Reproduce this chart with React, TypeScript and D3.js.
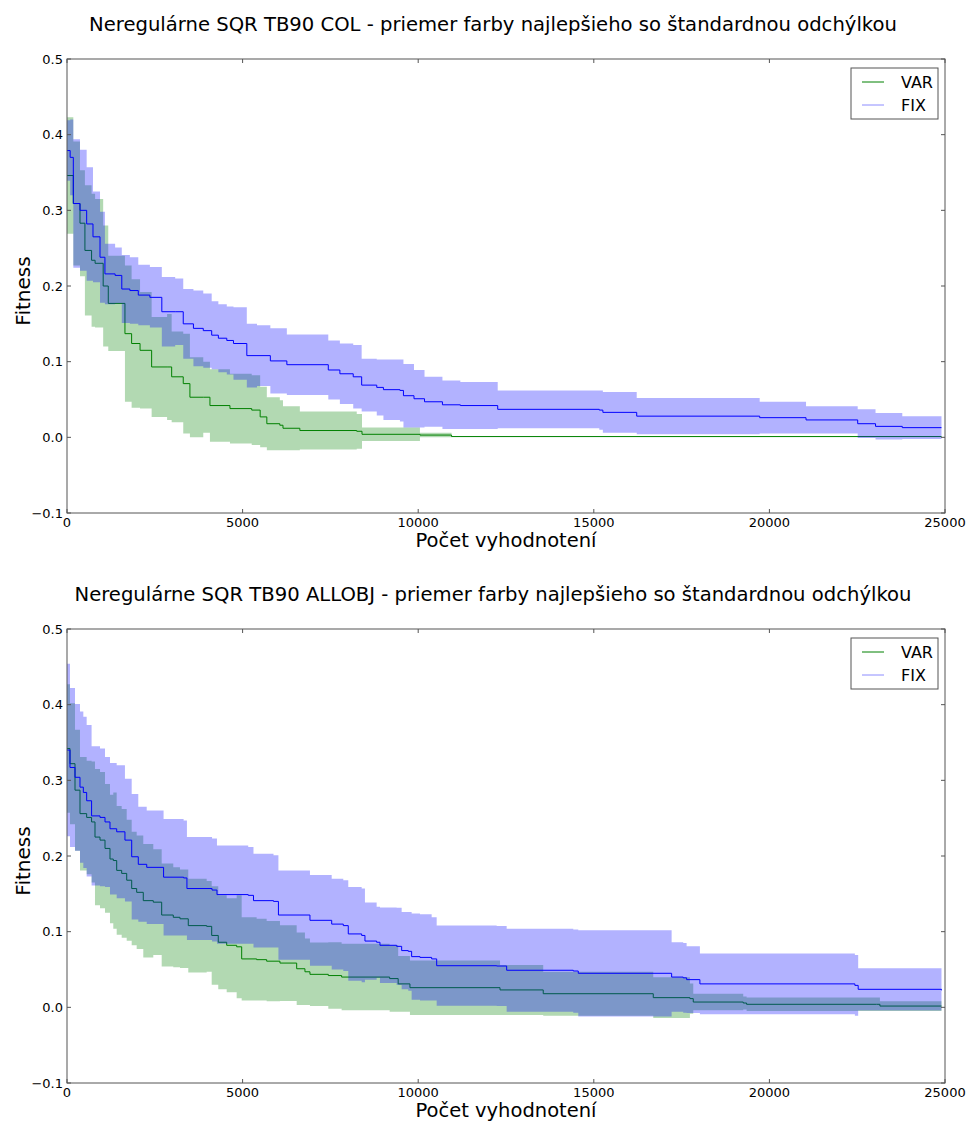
import React from 'react'
import * as d3 from 'd3'

// evaluations, mean and std (step changes)
const colEvalsVar = [0, 180, 370, 510, 700, 800, 1030, 1175, 1650, 1840, 2080, 2410, 2850, 2980, 3310, 3500, 3880, 4070, 4640, 5260, 5500, 5690, 6060, 6150, 6630, 8250, 8400, 10050, 10950, 24900]
const colMeanVar = [0.346, 0.309, 0.283, 0.247, 0.234, 0.23, 0.2, 0.177, 0.137, 0.124, 0.115, 0.093, 0.093, 0.08, 0.071, 0.053, 0.053, 0.042, 0.038, 0.036, 0.027, 0.018, 0.016, 0.012, 0.009, 0.008, 0.004, 0.003, 0.001, 0.001]
const colStdVar = [0.077, 0.082, 0.07, 0.086, 0.088, 0.085, 0.08, 0.063, 0.09, 0.085, 0.077, 0.066, 0.07, 0.06, 0.066, 0.053, 0.047, 0.048, 0.046, 0.046, 0.04, 0.035, 0.033, 0.029, 0.025, 0.023, 0.009, 0.003, 0.0005, 0.0005]

const colEvalsFix = [0, 90, 180, 370, 560, 740, 940, 1080, 1370, 1560, 1790, 2030, 2360, 2700, 3080, 3310, 3600, 3880, 4120, 4310, 4550, 4740, 5120, 5410, 5790, 6260, 7440, 7770, 8150, 8390, 8820, 9010, 9480, 9580, 9880, 10180, 10690, 11200, 12264, 15156, 15258, 16222, 19723, 21043, 22514, 23022, 23784, 24900]
const colMeanFix = [0.379, 0.37, 0.309, 0.3, 0.282, 0.265, 0.238, 0.216, 0.214, 0.196, 0.194, 0.188, 0.185, 0.166, 0.166, 0.15, 0.144, 0.141, 0.135, 0.131, 0.128, 0.124, 0.108, 0.108, 0.101, 0.096, 0.089, 0.084, 0.08, 0.069, 0.066, 0.063, 0.062, 0.055, 0.051, 0.047, 0.043, 0.042, 0.037, 0.036, 0.033, 0.028, 0.026, 0.023, 0.018, 0.0145, 0.0128, 0.0128]
const colStdFix = [0.04, 0.05, 0.085, 0.08, 0.075, 0.06, 0.06, 0.04, 0.037, 0.045, 0.044, 0.04, 0.04, 0.046, 0.044, 0.046, 0.05, 0.049, 0.045, 0.045, 0.045, 0.048, 0.042, 0.04, 0.043, 0.04, 0.039, 0.04, 0.042, 0.035, 0.037, 0.04, 0.041, 0.042, 0.038, 0.033, 0.032, 0.031, 0.025, 0.026, 0.027, 0.024, 0.021, 0.018, 0.019, 0.0175, 0.015, 0.015]

const allEvalsVar = [0, 85, 228, 370, 560, 700, 797, 940, 1082, 1224, 1318, 1415, 1557, 1700, 1842, 1984, 2172, 2457, 2696, 3026, 3217, 3453, 3977, 4120, 4307, 4547, 4831, 4974, 5400, 5685, 6064, 6540, 6775, 6918, 7440, 7820, 9187, 9430, 9765, 12330, 13560, 16693, 17737, 17832, 19255, 19351, 23052, 23147, 24900]
const allMeanVar = [0.342, 0.322, 0.287, 0.256, 0.251, 0.245, 0.225, 0.221, 0.21, 0.196, 0.194, 0.181, 0.177, 0.168, 0.157, 0.152, 0.141, 0.139, 0.122, 0.119, 0.117, 0.108, 0.107, 0.095, 0.086, 0.082, 0.08, 0.064, 0.063, 0.061, 0.0585, 0.051, 0.047, 0.0436, 0.042, 0.04, 0.038, 0.031, 0.026, 0.023, 0.018, 0.0128, 0.0115, 0.007, 0.0057, 0.004, 0.004, 0.0017, 0.0017]
const allStdVar = [0.085, 0.08, 0.08, 0.075, 0.075, 0.08, 0.09, 0.09, 0.085, 0.085, 0.09, 0.085, 0.085, 0.08, 0.075, 0.075, 0.075, 0.07, 0.068, 0.066, 0.065, 0.062, 0.06, 0.065, 0.062, 0.062, 0.068, 0.055, 0.054, 0.053, 0.05, 0.048, 0.044, 0.042, 0.044, 0.044, 0.044, 0.037, 0.036, 0.033, 0.029, 0.027, 0.02, 0.011, 0.0085, 0.009, 0.009, 0.0065, 0.0065]

const allEvalsFix = [0, 85, 228, 370, 465, 560, 700, 940, 1082, 1224, 1415, 1650, 1842, 2030, 2270, 2750, 3320, 3415, 4130, 4270, 5160, 5310, 5880, 6020, 6918, 7537, 7867, 8009, 8390, 8484, 8817, 8911, 9386, 9529, 9717, 9813, 10050, 10383, 10526, 12234, 12519, 14415, 14558, 17216, 17546, 17643, 18021, 22434, 22528, 24900]
const allMeanFix = [0.34, 0.317, 0.304, 0.291, 0.284, 0.273, 0.253, 0.251, 0.245, 0.236, 0.232, 0.221, 0.199, 0.189, 0.185, 0.172, 0.171, 0.157, 0.155, 0.149, 0.148, 0.141, 0.14, 0.122, 0.115, 0.11, 0.108, 0.097, 0.095, 0.0876, 0.086, 0.082, 0.0806, 0.075, 0.074, 0.067, 0.066, 0.064, 0.055, 0.0546, 0.049, 0.048, 0.045, 0.04, 0.039, 0.0366, 0.031, 0.029, 0.0238, 0.0225]
const allStdFix = [0.114, 0.105, 0.097, 0.1, 0.1, 0.1, 0.092, 0.091, 0.086, 0.087, 0.088, 0.081, 0.083, 0.076, 0.075, 0.077, 0.076, 0.068, 0.068, 0.065, 0.064, 0.062, 0.061, 0.059, 0.06, 0.06, 0.06, 0.062, 0.062, 0.051, 0.047, 0.05, 0.051, 0.051, 0.052, 0.057, 0.057, 0.055, 0.053, 0.053, 0.055, 0.055, 0.057, 0.046, 0.046, 0.044, 0.04, 0.04, 0.028, 0.0286]

const xTicks = [0, 5000, 10000, 15000, 20000, 25000]
const yTicks = [-0.1, 0, 0.1, 0.2, 0.3, 0.4, 0.5]
const seriesNames = ['VAR', 'FIX']
const titles = [
  'Neregulárne SQR TB90 COL - priemer farby najlepšieho so štandardnou odchýlkou',
  'Neregulárne SQR TB90 ALLOBJ - priemer farby najlepšieho so štandardnou odchýlkou'
]

const FONT = 'DejaVu Sans, sans-serif'
const LEFT = 67
const W = 878
const H = 454
const GREEN = '#008000'
const BLUE = '#0000ff'

type Row = { x: number; m: number; s: number }
const rows = (xs: number[], ms: number[], ss: number[]): Row[] =>
  xs.map((x, i) => ({ x, m: ms[i], s: ss[i] }))

const Panel = ({ top, title, varRows, fixRows }: { top: number; title: string; varRows: Row[]; fixRows: Row[] }) => {
  const x = d3.scaleLinear().domain([0, 25000]).range([LEFT, LEFT + W])
  const y = d3.scaleLinear().domain([-0.1, 0.5]).range([top + H, top])

  const area = d3.area<Row>()
    .x(d => x(d.x))
    .y0(d => y(d.m - d.s))
    .y1(d => y(d.m + d.s))
    .curve(d3.curveStepAfter)
  const line = d3.line<Row>()
    .x(d => x(d.x))
    .y(d => y(d.m))
    .curve(d3.curveStepAfter)
  const fmt = d3.format('.1f')
  const bottom = top + H

  return (
    <g>
      <text x={493} y={top - 28} textAnchor="middle" fontSize={19.6} fontFamily={FONT}>{title}</text>
      <path d={area(varRows) || ''} fill={GREEN} fillOpacity={0.3} />
      <path d={line(varRows) || ''} fill="none" stroke={GREEN} strokeWidth={1} />
      <path d={area(fixRows) || ''} fill={BLUE} fillOpacity={0.3} />
      <path d={line(fixRows) || ''} fill="none" stroke={BLUE} strokeWidth={1} />
      <rect x={LEFT} y={top} width={W} height={H} fill="none" stroke="#555" strokeWidth={1} />
      {xTicks.map(t => (
        <g key={'x' + t}>
          <line x1={x(t)} x2={x(t)} y1={bottom} y2={bottom - 4} stroke="#555" />
          <line x1={x(t)} x2={x(t)} y1={top} y2={top + 4} stroke="#555" />
          <text x={x(t)} y={bottom + 14} textAnchor="middle" fontSize={13} fontFamily={FONT}>{t}</text>
        </g>
      ))}
      {yTicks.map(t => (
        <g key={'y' + t}>
          <line x1={LEFT} x2={LEFT + 4} y1={y(t)} y2={y(t)} stroke="#555" />
          <line x1={LEFT + W} x2={LEFT + W - 4} y1={y(t)} y2={y(t)} stroke="#555" />
          <text x={LEFT - 4} y={y(t)} dy="0.35em" textAnchor="end" fontSize={13} fontFamily={FONT}>{fmt(t)}</text>
        </g>
      ))}
      <text x={LEFT + W / 2} y={bottom + 34} textAnchor="middle" fontSize={19.5} fontFamily={FONT}>Počet vyhodnotení</text>
      <text transform={`translate(30,${top + H / 2 + 5}) rotate(-90)`} textAnchor="middle" fontSize={20} fontFamily={FONT}>Fitness</text>
      <g transform={`translate(${LEFT + W - 94},${top + 9})`}>
        <rect x={0} y={0} width={87} height={51} fill="#fff" stroke="#555" strokeWidth={1} />
        {seriesNames.map((n, i) => (
          <g key={n} transform={`translate(0,${14 + i * 23})`}>
            <line x1={11} x2={33} y1={0} y2={0} stroke={i === 0 ? GREEN : '#8c8cff'} strokeWidth={1} />
            <text x={50} y={0} dy="0.35em" fontSize={16} fontFamily={FONT}>{n}</text>
          </g>
        ))}
      </g>
    </g>
  )
}

export default function App() {
  return (
    <svg width={976} height={1122} style={{ position: 'absolute', left: 0, top: 0, background: '#fff' }}>
      <rect width={976} height={1122} fill="#fff" />
      <Panel top={59} title={titles[0]} varRows={rows(colEvalsVar, colMeanVar, colStdVar)} fixRows={rows(colEvalsFix, colMeanFix, colStdFix)} />
      <Panel top={629} title={titles[1]} varRows={rows(allEvalsVar, allMeanVar, allStdVar)} fixRows={rows(allEvalsFix, allMeanFix, allStdFix)} />
    </svg>
  )
}
